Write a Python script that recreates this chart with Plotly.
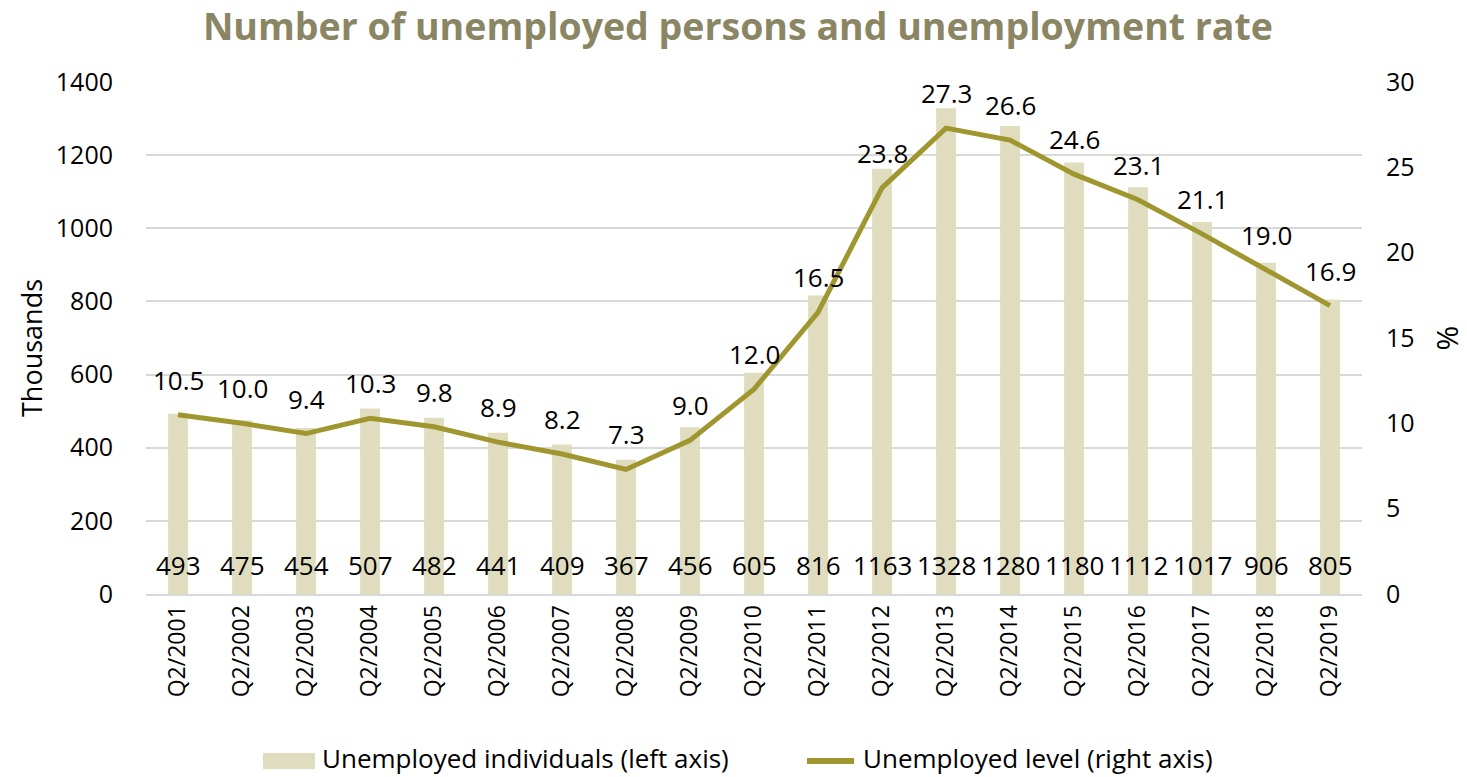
import plotly.graph_objects as go

quarters = ["Q2/2001", "Q2/2002", "Q2/2003", "Q2/2004", "Q2/2005", "Q2/2006", "Q2/2007",
            "Q2/2008", "Q2/2009", "Q2/2010", "Q2/2011", "Q2/2012", "Q2/2013", "Q2/2014",
            "Q2/2015", "Q2/2016", "Q2/2017", "Q2/2018", "Q2/2019"]
unemployed_thousands = [493, 475, 454, 507, 482, 441, 409, 367, 456, 605, 816, 1163,
                        1328, 1280, 1180, 1112, 1017, 906, 805]
unemployment_rate = [10.5, 10.0, 9.4, 10.3, 9.8, 8.9, 8.2, 7.3, 9.0, 12.0, 16.5, 23.8,
                     27.3, 26.6, 24.6, 23.1, 21.1, 19.0, 16.9]

bar_name = "Unemployed individuals (left axis)"
line_name = "Unemployed level (right axis)"

FONT = "Open Sans"
BAR_COLOR = "#E0DDBF"
LINE_COLOR = "#A0962F"
TITLE_COLOR = "#8A8563"
GRID = "#D9D9D9"

W, H = 1467, 777
ML, MR, MT, MB = 146, 105, 82, 183
PW, PH = W - ML - MR, H - MT - MB


def px_x(px):
    return (px - ML) / PW


def px_y(py):
    return (H - MB - py) / PH


fig = go.Figure()
fig.add_trace(go.Bar(
    x=quarters, y=unemployed_thousands, name=bar_name,
    marker=dict(color=BAR_COLOR, line=dict(width=0)), width=0.31, yaxis="y",
))
fig.add_trace(go.Scatter(
    x=quarters, y=unemployment_rate, name=line_name,
    mode="lines", line=dict(color=LINE_COLOR, width=5), yaxis="y2",
))

annotations = []
for q, v in zip(quarters, unemployed_thousands):
    annotations.append(dict(x=q, y=0, xref="x", yref="y", text=str(v), showarrow=False,
                            yanchor="middle", yshift=29,
                            font=dict(family=FONT, size=26, color="#000000")))
for q, r in zip(quarters, unemployment_rate):
    annotations.append(dict(x=q, y=r, xref="x", yref="y2", text=f"{r:.1f}", showarrow=False,
                            yanchor="middle", yshift=35,
                            font=dict(family=FONT, size=26, color="#000000")))

# left axis title
annotations.append(dict(x=px_x(31), y=px_y(348), xref="paper", yref="paper",
                        text="Thousands", textangle=-90, showarrow=False,
                        xanchor="center", yanchor="middle",
                        font=dict(family=FONT, size=27, color="#000000")))

# legend drawn by hand: wide swatches like a spreadsheet chart
legend_y = 758
annotations.append(dict(x=px_x(320), y=px_y(legend_y), xref="paper", yref="paper",
                        text=bar_name, showarrow=False, xanchor="left", yanchor="middle",
                        font=dict(family=FONT, size=26, color="#000000")))
annotations.append(dict(x=px_x(861), y=px_y(legend_y), xref="paper", yref="paper",
                        text=line_name, showarrow=False, xanchor="left", yanchor="middle",
                        font=dict(family=FONT, size=26, color="#000000")))
shapes = [
    dict(type="rect", xref="paper", yref="paper",
         x0=px_x(263), x1=px_x(315), y0=px_y(legend_y + 11), y1=px_y(legend_y - 5),
         fillcolor=BAR_COLOR, line=dict(width=0)),
    dict(type="line", xref="paper", yref="paper",
         x0=px_x(807), x1=px_x(854), y0=px_y(legend_y + 3), y1=px_y(legend_y + 3),
         line=dict(color=LINE_COLOR, width=6)),
]

fig.update_layout(
    width=W, height=H,
    margin=dict(l=ML, r=MR, t=MT, b=MB, autoexpand=False),
    paper_bgcolor="white", plot_bgcolor="white",
    font=dict(family=FONT, size=25, color="#000000"),
    title=dict(text="<b>Number of unemployed persons and unemployment rate</b>",
               x=0.503, xanchor="center", y=0.966, yanchor="middle",
               font=dict(family=FONT, size=37.5, color=TITLE_COLOR)),
    bargap=0.69,
    showlegend=False,
    xaxis=dict(type="category", tickangle=-90, showgrid=False, showline=True,
               linecolor=GRID, linewidth=2, ticks="", tickfont=dict(size=23),
               automargin=False),
    yaxis=dict(range=[0, 1400], dtick=200, showgrid=True, gridcolor=GRID, gridwidth=2,
               zeroline=False, tickfont=dict(size=25), ticks="", ticklabelstandoff=32,
               automargin=False),
    yaxis2=dict(range=[0, 30], dtick=5, overlaying="y", side="right", showgrid=False,
                zeroline=False, title=dict(text="%", standoff=30),
                tickfont=dict(size=25), ticks="", ticklabelstandoff=23, automargin=False),
    annotations=annotations,
    shapes=shapes,
)

fig.write_html("out.html")
